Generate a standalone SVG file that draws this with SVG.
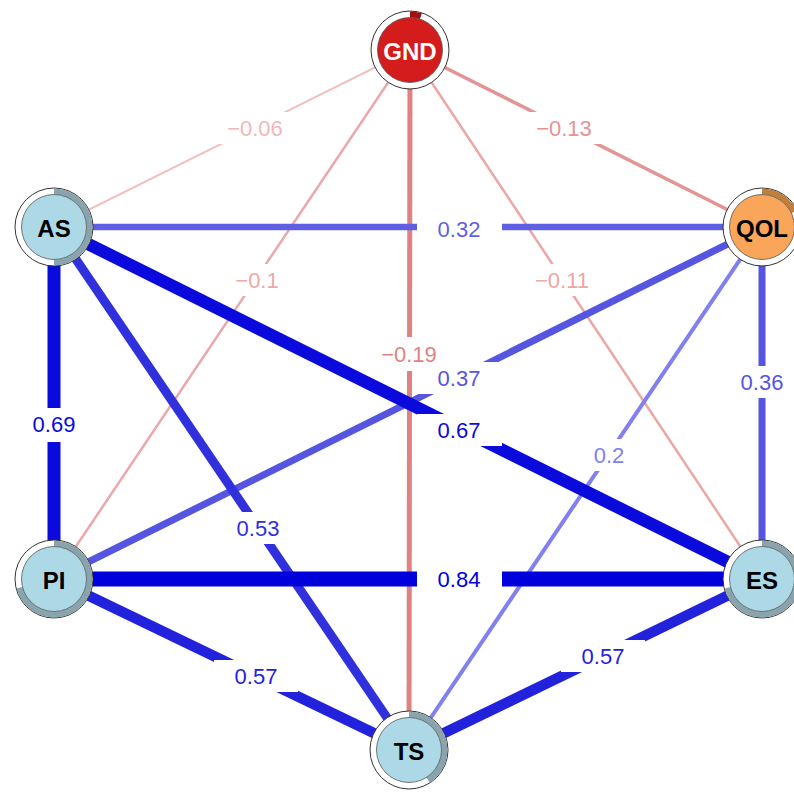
<svg xmlns="http://www.w3.org/2000/svg" width="794" height="795" viewBox="0 0 794 795">
<style>
.e{fill:none;stroke-linecap:butt}
.lb{fill:#ffffff}
.lt{font-family:"Liberation Sans",Arial,sans-serif;font-size:22px;text-anchor:middle;dominant-baseline:central}
.ring{fill:#ffffff;stroke:#333333;stroke-width:1}
.pie{fill:none;stroke-width:6}
.core{stroke:#555555;stroke-width:0.8}
.nt{font-family:"Liberation Sans",Arial,sans-serif;font-size:24px;font-weight:bold;text-anchor:middle;dominant-baseline:central}
</style>
<rect width="794" height="795" fill="#ffffff"/>
<g id="edges">
<line class="e" x1="410" y1="50" x2="54" y2="227" stroke="#f2c0c0" stroke-width="2"/>
<line class="e" x1="410" y1="50" x2="54" y2="579" stroke="#eca8a8" stroke-width="2.5"/>
<line class="e" x1="410" y1="50" x2="762" y2="579" stroke="#eca6a6" stroke-width="2.5"/>
<line class="e" x1="410" y1="50" x2="762" y2="227" stroke="#e39494" stroke-width="3.5"/>
<line class="e" x1="410" y1="50" x2="409" y2="750" stroke="#e08282" stroke-width="5"/>
<line class="e" x1="762" y1="227" x2="409" y2="750" stroke="#8080ee" stroke-width="4"/>
<line class="e" x1="54" y1="227" x2="762" y2="227" stroke="#5f5fe4" stroke-width="6.5"/>
<line class="e" x1="762" y1="227" x2="762" y2="579" stroke="#5555e2" stroke-width="7"/>
<line class="e" x1="762" y1="227" x2="54" y2="579" stroke="#5555e2" stroke-width="7"/>
<line class="e" x1="54" y1="227" x2="409" y2="750" stroke="#3030dc" stroke-width="9"/>
<line class="e" x1="54" y1="579" x2="409" y2="750" stroke="#2222dc" stroke-width="10.5"/>
<line class="e" x1="762" y1="579" x2="409" y2="750" stroke="#2222dc" stroke-width="10.5"/>
<line class="e" x1="54" y1="227" x2="762" y2="579" stroke="#0a0adc" stroke-width="12.5"/>
<line class="e" x1="54" y1="227" x2="54" y2="579" stroke="#0a0adc" stroke-width="13"/>
<line class="e" x1="54" y1="579" x2="762" y2="579" stroke="#0000dc" stroke-width="15"/>
</g>
<g id="labels">
<rect class="lb" x="205" y="112" width="100" height="32"/><text class="lt" x="255" y="128" fill="#f0b8b8">−0.06</text>
<rect class="lb" x="514" y="112" width="100" height="32"/><text class="lt" x="564" y="128" fill="#e39494">−0.13</text>
<rect class="lb" x="417" y="213" width="85" height="32"/><text class="lt" x="459" y="229" fill="#5f5fe4">0.32</text>
<rect class="lb" x="219" y="264" width="76" height="32"/><text class="lt" x="257" y="280" fill="#eca8a8">−0.1</text>
<rect class="lb" x="512" y="264" width="100" height="32"/><text class="lt" x="562" y="280" fill="#eca6a6">−0.11</text>
<rect class="lb" x="359" y="337" width="100" height="34"/><text class="lt" x="409" y="354" fill="#e08282">−0.19</text>
<rect class="lb" x="417" y="362" width="85" height="32"/><text class="lt" x="459" y="378" fill="#5555e2">0.37</text>
<rect class="lb" x="417" y="414" width="85" height="32"/><text class="lt" x="459" y="430" fill="#0a0adc">0.67</text>
<rect class="lb" x="720" y="366" width="84" height="32"/><text class="lt" x="762" y="382" fill="#5555e2">0.36</text>
<rect class="lb" x="12" y="408" width="84" height="34"/><text class="lt" x="54" y="424" fill="#0a0adc">0.69</text>
<rect class="lb" x="576" y="439" width="66" height="32"/><text class="lt" x="609" y="455" fill="#8080ee">0.2</text>
<rect class="lb" x="216" y="512" width="84" height="32"/><text class="lt" x="258" y="528" fill="#3030dc">0.53</text>
<rect class="lb" x="417" y="563" width="85" height="32"/><text class="lt" x="459" y="579" fill="#0000dc">0.84</text>
<rect class="lb" x="214" y="660" width="84" height="32"/><text class="lt" x="256" y="676" fill="#2222dc">0.57</text>
<rect class="lb" x="561" y="640" width="84" height="32"/><text class="lt" x="603" y="656" fill="#2222dc">0.57</text>
</g>
<g id="GND">
<circle class="ring" cx="410" cy="50" r="39"/>
<circle class="pie" cx="410" cy="50" r="35.5" pathLength="100" stroke="#a01010" stroke-dasharray="5 100" transform="rotate(-90 410 50)"/>
<circle class="core" cx="410" cy="50" r="32.5" fill="#d41c1c"/>
<text class="nt" x="410" y="51" fill="#ffffff">GND</text>
</g>
<g id="AS">
<circle class="ring" cx="54" cy="227" r="39"/>
<circle class="pie" cx="54" cy="227" r="35.5" pathLength="100" stroke="#8aa4ae" stroke-dasharray="50 100" transform="rotate(-90 54 227)"/>
<circle class="core" cx="54" cy="227" r="32.5" fill="#add8e6"/>
<text class="nt" x="54" y="228" fill="#000000">AS</text>
</g>
<g id="QOL">
<circle class="ring" cx="762" cy="227" r="39"/>
<circle class="pie" cx="762" cy="227" r="35.5" pathLength="100" stroke="#c0803c" stroke-dasharray="18 100" transform="rotate(-90 762 227)"/>
<circle class="core" cx="762" cy="227" r="32.5" fill="#f9a65a"/>
<text class="nt" x="762" y="228" fill="#000000">QOL</text>
</g>
<g id="PI">
<circle class="ring" cx="54" cy="579" r="39"/>
<circle class="pie" cx="54" cy="579" r="35.5" pathLength="100" stroke="#8aa4ae" stroke-dasharray="71 100" transform="rotate(-90 54 579)"/>
<circle class="core" cx="54" cy="579" r="32.5" fill="#add8e6"/>
<text class="nt" x="54" y="580" fill="#000000">PI</text>
</g>
<g id="ES">
<circle class="ring" cx="762" cy="579" r="39"/>
<circle class="pie" cx="762" cy="579" r="35.5" pathLength="100" stroke="#8aa4ae" stroke-dasharray="71 100" transform="rotate(-90 762 579)"/>
<circle class="core" cx="762" cy="579" r="32.5" fill="#add8e6"/>
<text class="nt" x="762" y="580" fill="#000000">ES</text>
</g>
<g id="TS">
<circle class="ring" cx="409" cy="750" r="39"/>
<circle class="pie" cx="409" cy="750" r="35.5" pathLength="100" stroke="#8aa4ae" stroke-dasharray="41 100" transform="rotate(-90 409 750)"/>
<circle class="core" cx="409" cy="750" r="32.5" fill="#add8e6"/>
<text class="nt" x="409" y="751" fill="#000000">TS</text>
</g>
</svg>
